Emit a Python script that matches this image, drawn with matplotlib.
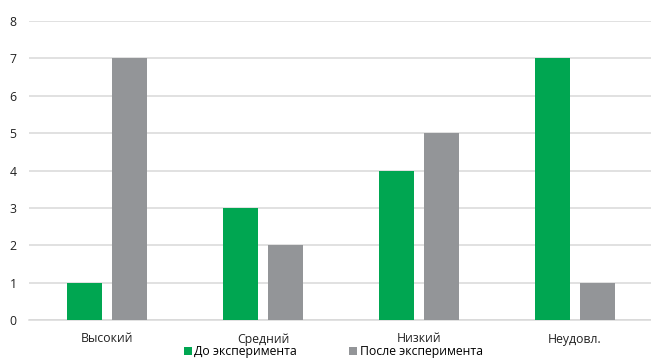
import matplotlib
matplotlib.use("Agg")
import matplotlib.pyplot as plt
import numpy as np

categories = ["Высокий", "Средний", "Низкий", "Неудовл."]
before = [1, 3, 4, 7]
after = [7, 2, 5, 1]
series_names = ["До эксперимента", "После эксперимента"]

GREEN = "#00a651"
GREY = "#939598"

plt.rcParams["font.family"] = ["Open Sans", "DejaVu Sans"]

fig = plt.figure(figsize=(6.51, 3.61), dpi=100)
ax = fig.add_axes([29 / 651, 41 / 361, 624 / 651, 299 / 361])

x = np.arange(len(categories))
w = 0.224
off = 0.144
b1 = ax.bar(x - off, before, w, color=GREEN, zorder=3)
b2 = ax.bar(x + off, after, w, color=GREY, zorder=3)

ax.set_xlim(-0.5, 3.5)
ax.set_ylim(0, 8)
ax.set_yticks(range(0, 9))
ax.yaxis.grid(True, color="#d9d9d9", lw=1.1, zorder=0)
ax.set_axisbelow(True)
for s in ["left", "right", "top"]:
    ax.spines[s].set_visible(False)
ax.spines["bottom"].set_color("#d9d9d9")
ax.spines["bottom"].set_linewidth(1.1)
ax.tick_params(axis="both", length=0, labelsize=8.8, colors="#222222")
ax.tick_params(axis="y", pad=9)
ax.tick_params(axis="x", pad=9)
ax.set_xticks(x)
ax.set_xticklabels(categories)

fig.legend([b1, b2], series_names, loc="lower center", bbox_to_anchor=(0.512, -0.022),
           ncol=2, frameon=False, fontsize=8.8, handlelength=0.65, handleheight=0.65,
           handletextpad=0.2, columnspacing=4.3)

fig.savefig("out.png", dpi=100)
